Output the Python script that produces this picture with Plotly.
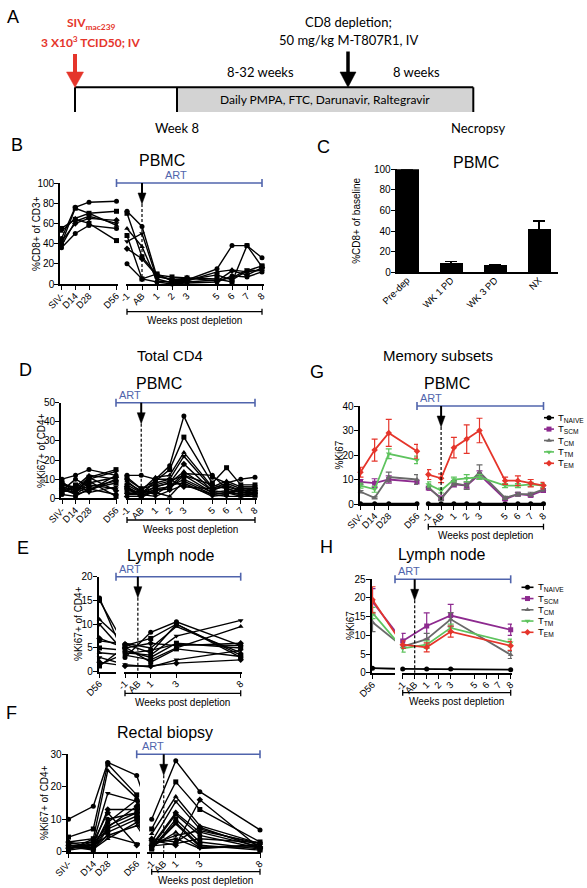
import plotly.graph_objects as go

W, H = 587, 888
FONT = "Liberation Sans"
AFONT = "Lato"
RED = "#e5352b"
BLUE = "#5064ac"
PURPLE = "#8d2a8f"
GRAY = "#6a6a6a"
GREEN = "#5ec35e"
SYMS = ["circle", "square", "triangle-up", "triangle-down", "diamond"]

# ================= DATA =================
pre_labels = ["SIV-", "D14", "D28", "D56"]
pre_days = [0, 14, 28, 56]
pre_days_rectal = [-10, 14, 28, 56]
post_labels = ["-1", "AB", "1", "2", "3", "5", "6", "7", "8"]
post_weeks = [-1, 0, 1, 2, 3, 5, 6, 7, 8]
short_tick_labels = ["-1", "AB", "1", "3", "8"]
short_tick_weeks = [-1, 0, 1, 3, 8]
short_weeks = [-1, 1, 3, 8]
ln_label = ["D56"]
ln_day = [56]

# B: %CD8+ of CD3+ (PBMC), one list per animal
cd8_pre = [
    [45, 76, 81, 82],
    [40, 75, 70, 72],
    [52, 65, 70, 58],
    [38, 62, 67, 60],
    [42, 60, 65, 63],
    [36, 50, 58, 55],
    [55, 64, 60, 43],
]
cd8_post = [
    [72, 57, 7, 5, 4, 15, 38, 38, 26],
    [70, 27, 9, 7, 6, 5, 2, 38, 17],
    [55, 37, 3, 2, 3, 12, 14, 12, 14],
    [42, 50, 5, 1, 2, 4, 6, 14, 13],
    [35, 25, 8, 4, 6, 3, 13, 9, 16],
    [20, 5, 2, 0, 1, 2, 8, 7, 12],
    [48, 5, 10, 3, 4, 9, 4, 13, 18],
]

# C: %CD8+ of baseline (PBMC)
c_cats = ["Pre-dep", "WK 1 PD", "WK 3 PD", "NX"]
c_mean = [100, 8.5, 6.5, 41.5]
c_err = [0, 2, 1, 8.5]

# D: %Ki67+ of CD4+ (PBMC)
ki_pbmc_pre = [
    [10, 12, 15, 12], [8, 5, 11, 15], [7, 6, 12, 10], [6, 4, 10, 14],
    [5, 3, 8, 11], [4, 10, 6, 9], [3, 7, 5, 8], [9, 2, 4, 12],
    [7, 5, 3, 6], [4, 3, 11, 4], [2, 1, 5, 2], [6, 4, 9, 1],
    [3, 6, 4, 10], [5, 2, 7, 5],
]
ki_pbmc_post = [
    [12, 12, 10, 17, 43, 11, 8, 10, 11],
    [11, 5, 9, 15, 32, 8, 16, 7, 7],
    [8, 4, 11, 12, 24, 6, 9, 6, 6],
    [7, 3, 8, 10, 22, 5, 8, 5, 5],
    [6, 2, 6, 8, 18, 4, 7, 4, 4],
    [5, 1, 5, 6, 13, 12, 5, 3, 3],
    [4, 3, 4, 5, 12, 3, 4, 2, 2],
    [3, 2, 3, 1, 9, 2, 3, 1, 1],
    [2, 4, 2, 7, 8, 1, 2, 6, 6],
    [1, 1, 10, 10, 6, 5, 6, 4, 5],
    [10, 5, 7, 9, 12, 7, 5, 3, 4],
    [6, 0.5, 4, 6, 10, 3, 2, 5, 2],
    [9, 3, 6, 8, 14, 4, 3, 2, 3],
    [2, 2, 1, 4, 7, 2, 1, 1, 2],
]

# E: %Ki67+ of CD4+ (lymph node)
ki_ln_d56 = [15.5, 15, 11, 10, 7, 6.5, 5, 4, 3, 2, 1.5, 1.2]
ki_ln_post = [
    [3, 8.3, 10.5, 5.5], [5.5, 7, 10, 3.5], [6, 5, 9.5, 4], [4, 3.5, 7.5, 10.8],
    [5, 6, 5.5, 6], [5.8, 4, 10, 3], [4.5, 3, 6, 5], [3.5, 2.5, 5, 9.5],
    [1.5, 1, 2.5, 4.5], [1.2, 1.2, 1.8, 2.5], [3.8, 4.5, 5.8, 5.5], [5.2, 2, 4.8, 3.2],
]

# F: %Ki67+ of CD4+ (rectal biopsy)
ki_rb_pre = [
    [10, 14, 27.5, 23.5], [4.5, 7, 27, 17.5], [3, 4, 25, 16.5], [2.5, 3, 18, 15.5],
    [2, 2, 13, 13], [2, 1, 10, 12], [1.5, 0.5, 7, 11], [1.5, 1, 5, 8],
    [1, 2, 5, 2.5], [1, 3, 12, 2], [0.5, 1.5, 9, 16], [0.5, 4, 6, 10],
    [2, 0.8, 4, 9], [1, 2.5, 8, 12], [3, 1.2, 7.5, 14],
]
ki_rb_post = [
    [10, 28, 18.5, 6.7], [7, 21.5, 13, 3], [5.5, 17, 8, 2.5], [3, 15.5, 7, 2],
    [2, 12, 6, 1.5], [1.5, 11.5, 5, 1], [1.2, 9, 2, 0.5], [1, 8.5, 1.5, 1.8],
    [2.5, 4, 1, 2.2], [4, 3, 7.5, 1.2], [1.8, 2.5, 4, 2.8], [0.8, 10, 3, 0.8],
    [1.5, 6, 1.2, 1.5], [2.2, 5, 6.5, 2.6], [3.5, 2, 16, 1],
]

# G / H: memory subsets, mean and error
subset_names = ["T<sub>NAIVE</sub>", "T<sub>SCM</sub>", "T<sub>CM</sub>", "T<sub>TM</sub>", "T<sub>EM</sub>"]
subset_colors = ["black", PURPLE, GRAY, GREEN, RED]
subset_syms = ["circle", "square", "triangle-up", "triangle-down", "diamond"]

g_pre = [[0.1, 0.1, 0.1, 0.1], [9, 8.5, 10, 9], [5, 2.5, 11, 10], [7.5, 6, 20.5, 18], [13, 22, 29, 21.5]]
g_pre_err = [[0, 0, 0, 0], [1, 1.8, 1.5, 1], [0.5, 0.4, 2, 2], [1, 1.2, 2, 1.5], [2, 4.5, 5.5, 2.8]]
g_post = [
    [0.1] * 9,
    [6.5, 2.5, 8, 7.5, 12, 2, 4, 3.5, 5.5],
    [7, 2, 8.5, 7.5, 13, 2.5, 4, 4, 6],
    [8, 5.5, 10, 10.5, 11, 7.5, 7.5, 8, 7.5],
    [12, 10.5, 23, 26.5, 30, 9.5, 9.5, 8.5, 7.5],
]
g_post_err = [
    [0] * 9,
    [0.8, 0.5, 1, 1, 1.5, 0.5, 0.6, 0.6, 0.8],
    [1, 0.6, 1, 1.5, 3, 0.6, 0.8, 0.8, 0.8],
    [1, 1, 1, 1.5, 1, 0.8, 0.8, 0.8, 0.8],
    [2, 1.8, 4.2, 5.8, 5, 1.5, 2, 1.5, 1.3],
]
h_d56 = [[1.2], [19], [13.5], [16], [19.5]]
h_d56_err = [[0], [3.5], [2.5], [1.5], [3.5]]
h_post = [[1, 1, 1, 0.8], [8.5, 12.5, 15.3, 11.5], [7, 9, 14.3, 4.8], [6.5, 7.5, 12, 8], [7.5, 6.8, 11, 7.2]]
h_post_err = [[0, 0, 0, 0], [2, 3.5, 3, 1.5], [0.5, 1.5, 1.8, 1], [1, 1, 1, 1], [1, 1.2, 1.5, 1.2]]

# ================= HELPERS =================
layout_axes = {}
shapes = []
annotations = []
traces = []

AXSTYLE = dict(showline=True, linecolor="black", linewidth=1.6, ticks="outside",
               ticklen=4, tickwidth=1.4, tickcolor="black", showgrid=False,
               zeroline=False, fixedrange=True, automargin=False, ticklabelstandoff=-2,
               tickfont=dict(family=FONT, size=10, color="black"))


def xgeom(p0, p1, va, pa, vb, pb):
    s = (pb - pa) / (vb - va)
    return dict(p0=p0, p1=p1, r0=va + (p0 - pa) / s, r1=va + (p1 - pa) / s)


def xpx(g, v):
    return g["p0"] + (v - g["r0"]) / (g["r1"] - g["r0"]) * (g["p1"] - g["p0"])


def xval(g, p):
    return g["r0"] + (p - g["p0"]) / (g["p1"] - g["p0"]) * (g["r1"] - g["r0"])


def ygeom(top, bottom, ymax):
    return dict(top=top, bottom=bottom, ymax=ymax)


def xid(n):
    return "x" if n == 1 else f"x{n}"


def yid(n):
    return "y" if n == 1 else f"y{n}"


def set_x(n, g, ny, vals, texts, ticks="outside"):
    key = "xaxis" if n == 1 else f"xaxis{n}"
    d = dict(AXSTYLE)
    d.update(domain=[g["p0"] / W, g["p1"] / W], range=[g["r0"], g["r1"]], anchor=yid(ny),
             tickmode="array", tickvals=vals, ticktext=texts, tickangle=-45, ticks=ticks,
             ticklabelstandoff=-3, tickfont=dict(family=FONT, size=9.5, color="black"))
    layout_axes[key] = d


def set_y(n, g, nx, dtick):
    key = "yaxis" if n == 1 else f"yaxis{n}"
    d = dict(AXSTYLE)
    d.update(domain=[1 - g["bottom"] / H, 1 - g["top"] / H], range=[0, g["ymax"]],
             anchor=xid(nx), dtick=dtick, tick0=0, tickmode="linear")
    layout_axes[key] = d


def seg(x0, y0, x1, y1, color="black", width=1.5, dash=None, layer="above"):
    ln = dict(color=color, width=width)
    if dash:
        ln["dash"] = dash
    shapes.append(dict(type="line", xref="paper", yref="paper", x0=x0 / W, y0=1 - y0 / H,
                       x1=x1 / W, y1=1 - y1 / H, line=ln, layer=layer))


def poly(pts, color):
    path = "M " + " L ".join(f"{x / W:.5f},{1 - y / H:.5f}" for x, y in pts) + " Z"
    shapes.append(dict(type="path", xref="paper", yref="paper", path=path,
                       fillcolor=color, line=dict(color=color, width=0.5)))


def txt(x, y, s, size=10, color="black", family=FONT, xanchor="center", angle=0):
    annotations.append(dict(x=x / W, y=1 - y / H, xref="paper", yref="paper", text=s,
                            showarrow=False, xanchor=xanchor, yanchor="middle", textangle=angle,
                            borderpad=0, font=dict(family=family, size=size, color=color)))


def decorate(xl, xr, yg, art_x0_val, art_label_x, bracket_dy):
    ytop, ybot = yg["top"], yg["bottom"]
    x0 = xpx(xl, art_x0_val)
    x1 = xpx(xr, post_weeks[-1])
    seg(x0, ytop, x1, ytop, BLUE, 1.6)
    seg(x0, ytop - 4, x0, ytop + 4, BLUE, 1.6)
    seg(x1, ytop - 4, x1, ytop + 4, BLUE, 1.6)
    txt(art_label_x, ytop - 8, "ART", 11, BLUE)
    xa = xpx(xr, 0)
    seg(xa, ytop, xa, ytop + 11, "black", 2)
    poly([(xa - 4, ytop + 10), (xa + 4, ytop + 10), (xa, ytop + 21)], "black")
    seg(xa, ytop + 21, xa, ybot, "black", 1.2, "3px,2px")
    yb = ybot + bracket_dy
    bx0, bx1 = xpx(xr, -1), xpx(xr, 8)
    seg(bx0, yb, bx1, yb, "black", 1.3)
    seg(bx0, yb - 3, bx0, yb + 3, "black", 1.3)
    seg(bx1, yb - 3, bx1, yb + 3, "black", 1.3)
    txt((bx0 + bx1) / 2, yb + 9, "Weeks post depletion", 10)


def indiv(nxl, nxr, ny, xs_pre, pre, xs_post, post, cont_x=None):
    for i, (a, b) in enumerate(zip(pre, post)):
        sym = SYMS[i % len(SYMS)]
        common = dict(yaxis=yid(ny), mode="lines+markers", line=dict(color="black", width=1.4),
                      marker=dict(symbol=sym, size=5, color="black"), cliponaxis=False,
                      showlegend=False, hoverinfo="skip")
        traces.append(go.Scatter(x=xs_pre, y=a, xaxis=xid(nxl), **common))
        traces.append(go.Scatter(x=xs_post, y=b, xaxis=xid(nxr), **common))
        if cont_x is not None:
            traces.append(go.Scatter(x=[xs_pre[-1], cont_x], y=[a[-1], b[0]], xaxis=xid(nxl),
                                     yaxis=yid(ny), mode="lines",
                                     line=dict(color="black", width=1.4),
                                     showlegend=False, hoverinfo="skip"))


def means(nxl, nxr, ny, xs_pre, pre, pre_err, xs_post, post, post_err, cont_x=None):
    for k in range(len(pre)):
        col, sym = subset_colors[k], subset_syms[k]
        for nx, xs, ys, es in ((nxl, xs_pre, pre[k], pre_err[k]), (nxr, xs_post, post[k], post_err[k])):
            traces.append(go.Scatter(
                x=xs, y=ys, xaxis=xid(nx), yaxis=yid(ny), mode="lines+markers",
                line=dict(color=col, width=1.8), marker=dict(symbol=sym, size=5, color=col),
                error_y=dict(type="data", array=es, color=col, thickness=1.2, width=3, visible=True),
                cliponaxis=False, showlegend=False, hoverinfo="skip"))
        if cont_x is not None:
            traces.append(go.Scatter(x=[xs_pre[-1], cont_x], y=[pre[k][-1], post[k][0]],
                                     xaxis=xid(nxl), yaxis=yid(ny), mode="lines",
                                     line=dict(color=col, width=1.8),
                                     showlegend=False, hoverinfo="skip"))


def legend(x_line0, x_line1, x_text, y0, step):
    for k, name in enumerate(subset_names):
        y = y0 + k * step
        seg(x_line0, y, x_line1, y, subset_colors[k], 1.6)
        traces.append(go.Scatter(x=[(x_line0 + x_line1) / 2], y=[y], xaxis="x14", yaxis="y8",
                                 mode="markers", marker=dict(symbol=subset_syms[k], size=5,
                                                             color=subset_colors[k]),
                                 showlegend=False, hoverinfo="skip", cliponaxis=False))
        txt(x_text, y, name, 9.5, xanchor="left")


# ================= PANEL A (schematic) =================
txt(13, 17, "A", 18)
seg(75, 87.3, 473.3, 87.3, "black", 2)
seg(75, 87.3, 75, 112, "black", 2)
shapes.append(dict(type="rect", xref="paper", yref="paper", x0=177 / W, x1=473.3 / W,
                   y0=1 - 112 / H, y1=1 - 87.3 / H, fillcolor="#d3d3d3", line=dict(width=0),
                   layer="below"))
seg(177, 87.3, 177, 112, "black", 2)
seg(473.3, 87.3, 473.3, 112, "black", 2)
seg(75, 54, 75, 74, RED, 4)
poly([(66.5, 72), (83.5, 72), (75, 87.3)], RED)
seg(348, 51.5, 348, 74, "black", 3.5)
poly([(340, 72), (356, 72), (348, 87.3)], "black")
txt(91, 23, "<b>SIV<sub>mac239</sub></b>", 12, RED, AFONT)
txt(90, 41.5, "<b>3 X10<sup>3</sup> TCID50; IV</b>", 12, RED, AFONT)
txt(348, 21.7, "CD8 depletion;", 13, "black", AFONT)
txt(348, 40, "50 mg/kg M-T807R1, IV", 13, "black", AFONT)
txt(260, 71.7, "8-32 weeks", 13, "black", AFONT)
txt(416.7, 71.7, "8 weeks", 13, "black", AFONT)
txt(325, 100, "Daily PMPA, FTC, Darunavir, Raltegravir", 12, "black", AFONT)
txt(177, 128, "Week 8", 13, "black", AFONT)
txt(478, 128, "Necropsy", 13, "black", AFONT)

# ================= PANEL B =================
yB = ygeom(183, 284, 100)
xBl = xgeom(60, 118, 0, 61.5, 56, 116.5)
xBr = xgeom(126, 263.5, -1, 127, 8, 262)
set_y(1, yB, 1, 20)
set_x(1, xBl, 1, pre_days, pre_labels)
set_x(2, xBr, 1, post_weeks, post_labels)
indiv(1, 2, 1, pre_days, cd8_pre, post_weeks, cd8_post)
decorate(xBl, xBr, yB, 56, 176, 27.7)
txt(16.7, 145, "B", 18)
txt(162, 161, "PBMC", 16)
txt(36.5, 233.5, "%CD8+ of CD3+", 10, angle=-90)

# ================= PANEL C =================
yC = ygeom(169.3, 272.3, 100)
xC = xgeom(396.5, 558, 0, 407, 3, 539)
set_y(2, yC, 3, 20)
set_x(3, xC, 2, [0, 1, 2, 3], c_cats, ticks="")
traces.append(go.Bar(x=[0, 1, 2, 3], y=c_mean, xaxis="x3", yaxis="y2", width=0.52,
                     marker=dict(color="black", line=dict(width=0)),
                     error_y=dict(type="data", array=c_err, arrayminus=[0, 0, 0, 0], symmetric=False,
                                  color="black", thickness=1.5, width=6),
                     showlegend=False, hoverinfo="skip"))
txt(323, 146.7, "C", 18)
txt(476, 162.3, "PBMC", 16)
txt(357, 220.8, "%CD8+ of baseline", 10, angle=-90)

# ================= PANEL D =================
yD = ygeom(402.7, 498.3, 50)
xDl = xgeom(61, 117, 0, 62, 56, 116)
xDr = xgeom(126, 256.5, -1, 127, 8, 255)
set_y(3, yD, 4, 10)
set_x(4, xDl, 3, pre_days, pre_labels)
set_x(5, xDr, 3, post_weeks, post_labels)
indiv(4, 5, 3, pre_days, ki_pbmc_pre, post_weeks, ki_pbmc_post)
decorate(xDl, xDr, yD, 56, 129.5, 21.7)
txt(25, 370, "D", 18)
txt(170, 355, "Total CD4", 15)
txt(159.3, 383.3, "PBMC", 16)
txt(41.5, 450.5, "%Ki67+ of CD4+", 10, angle=-90)

# ================= PANEL G =================
yG = ygeom(406, 504, 40)
xGl = xgeom(359.5, 418, 0, 360.5, 56, 417)
xGr = xgeom(427, 544.5, -1, 428.3, 8, 543.5)
set_y(4, yG, 6, 10)
set_x(6, xGl, 4, pre_days, pre_labels)
set_x(7, xGr, 4, post_weeks, post_labels)
means(6, 7, 4, pre_days, g_pre, g_pre_err, post_weeks, g_post, g_post_err)
decorate(xGl, xGr, yG, 56, 431, 22.7)
legend(544, 554, 556.5, 417.7, 11.4)
txt(316.7, 371.7, "G", 18)
txt(438.3, 355, "Memory subsets", 15)
txt(446.7, 383.3, "PBMC", 16)
txt(338.5, 455, "%Ki67", 10, angle=-90)

# ================= PANEL E =================
yE = ygeom(576.7, 671.7, 20)
xEl = xgeom(98.5, 116, 56, 99.5, 70, 113.5)
xEr = xgeom(124, 242, -1, 125, 8, 240.7)
set_y(5, yE, 8, 5)
set_x(8, xEl, 5, ln_day, ln_label)
set_x(9, xEr, 5, short_tick_weeks, short_tick_labels)
indiv(8, 9, 5, ln_day, [[v] for v in ki_ln_d56], short_weeks, ki_ln_post,
      cont_x=xval(xEl, xpx(xEr, short_weeks[0])))
decorate(xEl, xEr, yE, xEl["r1"], 130, 21.6)
txt(23.3, 548, "E", 18)
txt(170.7, 555, "Lymph node", 16)
txt(78, 624, "%Ki67+ of CD4+", 10, angle=-90)

# ================= PANEL H =================
yHh = ygeom(579.3, 672.7, 25)
xHl = xgeom(371.5, 395, 56, 372.5, 70, 386.5)
xHr = xgeom(401.5, 512, -1, 402.7, 8, 510.7)
set_y(6, yHh, 10, 5)
set_x(10, xHl, 6, ln_day, ln_label)
set_x(11, xHr, 6, post_weeks, post_labels)
means(10, 11, 6, ln_day, h_d56, h_d56_err, short_weeks, h_post, h_post_err,
      cont_x=xval(xHl, xpx(xHr, short_weeks[0])))
decorate(xHl, xHr, yHh, xHl["r1"], 409.3, 20)
legend(521.5, 533.5, 536.5, 587.3, 11.25)
txt(326.7, 546.7, "H", 18)
txt(441.7, 554.3, "Lymph node", 16)
txt(350, 626, "%Ki67", 10, angle=-90)

# ================= PANEL F =================
yF = ygeom(754.3, 851.7, 30)
xFl = xgeom(67.5, 140, -10, 68.5, 56, 136.7)
xFr = xgeom(146.5, 261, -1, 151.7, 8, 260)
set_y(7, yF, 12, 10)
set_x(12, xFl, 7, pre_days_rectal, pre_labels)
set_x(13, xFr, 7, short_tick_weeks, short_tick_labels)
indiv(12, 13, 7, pre_days_rectal, ki_rb_pre, short_weeks, ki_rb_post,
      cont_x=xval(xFl, xpx(xFr, short_weeks[0])))
decorate(xFl, xFr, yF, 56, 152.7, 20)
txt(11.7, 713, "F", 18)
txt(165, 732.3, "Rectal biopsy", 16)
txt(44, 803, "%Ki67+ of CD4+", 10, angle=-90)

# ================= CANVAS AXIS (legend keys) =================
layout_axes["xaxis14"] = dict(domain=[0, 1], range=[0, W], visible=False, fixedrange=True,
                              anchor="y8", automargin=False)
layout_axes["yaxis8"] = dict(domain=[0, 1], range=[H, 0], visible=False, fixedrange=True,
                             anchor="x14", automargin=False)

fig = go.Figure(data=traces)
fig.update_layout(template="none")
fig.update_layout(**layout_axes)
fig.update_layout(width=W, height=H, autosize=False, margin=dict(l=0, r=0, t=0, b=0, pad=0),
                  paper_bgcolor="white", plot_bgcolor="rgba(0,0,0,0)", showlegend=False,
                  font=dict(family=FONT, size=10, color="black"),
                  shapes=shapes, annotations=annotations, bargap=0)
fig.write_html("out.html", config={"displayModeBar": False},
               post_script="document.body.style.margin='0px';document.body.style.padding='0px';"
                           "document.body.style.overflow='hidden';")
